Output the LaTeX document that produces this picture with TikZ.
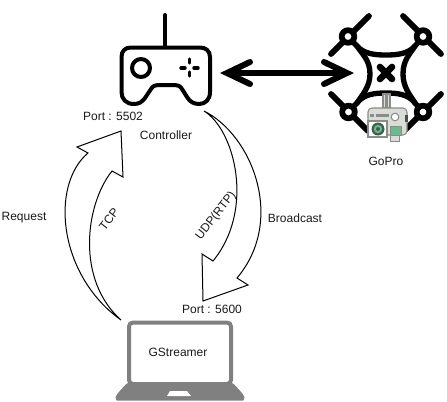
\documentclass[tikz,border=0pt]{standalone}
\usepackage{fontspec}
\setmainfont{Liberation Sans}
\tikzset{
  lbl/.style={inner sep=0pt,font=\fontsize{9}{11}\selectfont,text=black!90},
  blockarrow/.style={draw=black,line width=0.75pt,fill=white,line join=miter},
  icon/.style={draw=black,line width=3pt,line cap=round,line join=round},
  dronearm/.style={draw=black,line width=4.3pt,line cap=round},
  dronebody/.style={draw=black,line width=4pt,line cap=round,line join=round},
  laptopgray/.style={draw=lapgray,line width=3pt},
}
\definecolor{lapgray}{HTML}{808080}
\definecolor{camgray}{HTML}{DADCD8}
\definecolor{camline}{HTML}{8A8C88}
\definecolor{camgreen}{HTML}{6DB98D}
\definecolor{lensdark}{HTML}{3F5F4F}
\begin{document}
\begin{tikzpicture}[x=0.75pt,y=-0.75pt]
\useasboundingbox (0,0) rectangle (447,401);
% request arrow
\draw[blockarrow] (121,320) .. controls (58,275) and (50,185) .. (88,153)
  -- (77,147) -- (121,131) -- (123,177) -- (112,171)
  .. controls (85,205) and (76,280) .. (121,320) -- cycle;
% broadcast arrow
\draw[blockarrow] (204,111) .. controls (252,135) and (286,220) .. (237,278)
  -- (248,285) -- (203,301) -- (202,254) -- (213,261)
  .. controls (255,210) and (235,130) .. (204,111) -- cycle;
% controller
\draw[icon] (165,15) -- (165,47);
\draw[icon] (131,47.5) -- (200,47.5) .. controls (206,47.5) and (210,51) .. (210,57)
  -- (210,92) .. controls (210,100) and (205,104) .. (199,104)
  .. controls (194,104) and (190,102) .. (187,97)
  -- (182,89) .. controls (180,86) and (178,85) .. (175,85)
  -- (158,85) .. controls (155,85) and (153,86) .. (151,89)
  -- (145,98) .. controls (142,102) and (139,104) .. (134,104)
  .. controls (126,104) and (121.5,99) .. (121.5,92)
  -- (121.5,57) .. controls (121.5,51) and (125,47.5) .. (131,47.5) -- cycle;
\draw[icon] (141,68) circle (9);
\draw[draw=black,line width=2.6pt,line cap=round] (181,68) -- (185,68) (194,68) -- (198,68) (189.5,59) -- (189.5,63) (189.5,72) -- (189.5,76);
% drone
\draw[dronearm] (369,16) -- (331,54) (403,16) -- (441,54) (331,94) -- (368,131) (441,94) -- (404,131);
\draw[dronebody] (348,37) -- (357,46) .. controls (364,54) and (375,55) .. (386,55)
  .. controls (397,55) and (408,54) .. (415,46) -- (423,37);
\draw[dronebody] (357,46) .. controls (362,54) and (370,60) .. (370,74)
  .. controls (370,87) and (362,95) .. (357,103) -- (348,112);
\draw[dronebody] (415,46) .. controls (410,54) and (403,60) .. (403,74)
  .. controls (403,87) and (410,95) .. (415,103) -- (423,112);
\draw[dronebody] (357,103) .. controls (364,94) and (375,93) .. (386,93)
  .. controls (397,93) and (408,94) .. (415,103);
\draw[draw=black,line width=5pt,line cap=round] (380,67) -- (392,79) (392,67) -- (380,79);
\foreach \mx/\my in {348/36.5,423/36.5,348.5/112,423/112}
  \draw[draw=black,fill=white,line width=4.3pt] (\mx,\my) circle (6.3);
% camera
\draw[draw=camline,line width=0.8pt,fill=camgray] (383,94) rectangle (386,108) (387,94) rectangle (390,108);
\draw[draw=camline,line width=0.8pt,fill=camgray,rounded corners=3pt] (368,108) rectangle (407,135);
\draw[draw=camline,fill=camgray,line width=0.6pt] (390,135) rectangle (399,141);
\fill[camline] (376,114) rectangle (389,116.5);
\fill[camline] (370,114) rectangle (374,116.5);
\draw[draw=camline,fill=white,line width=0.8pt] (395,117) circle (3.8);
\fill[black!70] (405,115) rectangle (407.5,122);
\draw[draw=camline,fill=white,line width=1pt] (368,121) rectangle (387,137);
\fill[lensdark] (378,129) circle (6.5);
\fill[camgreen] (378,129) circle (4.2);
\fill[lensdark] (378,129) circle (2);
\draw[draw=camline,fill=camgreen,line width=0.6pt] (390,126) rectangle (401,135);
% double arrow
\coordinate (dl) at (227,73);
\coordinate (dr) at (347,73);
\draw[draw=black,line width=4pt] (dl) -- (dr);
\draw[draw=black,line width=4.5pt,line join=miter,line cap=round] (250,62) -- (dl) -- (250,84);
\draw[draw=black,line width=4.5pt,line join=miter,line cap=round] (324,62) -- (dr) -- (324,84);
% laptop
\draw[laptopgray,fill=white,rounded corners=3pt] (129,322.5) rectangle (231,384);
\fill[lapgray,rounded corners=2.5pt] (128,382) -- (232,382) -- (243,394) .. controls (245,398) and (243,400.5) .. (240,400.5)
  -- (120,400.5) .. controls (117,400.5) and (115,398) .. (117,394) -- cycle;
\fill[white] (170,391) -- (187,391) -- (191,396) -- (167,396) -- cycle;
% labels
\node[lbl] (port5502) at (113,116.5) {Port : 5502};
\node[lbl] (controller) at (166,135) {Controller};
\node[lbl] (gopro) at (386,161) {GoPro};
\node[lbl] (request) at (24,218) {Request};
\node[lbl] (broadcast) at (295,218) {Broadcast};
\node[lbl,rotate=52] (tcp) at (109,219) {TCP};
\node[lbl,rotate=52] (udp) at (216,216) {UDP(RTP)};
\node[lbl] (port5600) at (212,309.5) {Port : 5600};
\node[lbl] (gstreamer) at (178,352) {GStreamer};
\end{tikzpicture}
\end{document}
